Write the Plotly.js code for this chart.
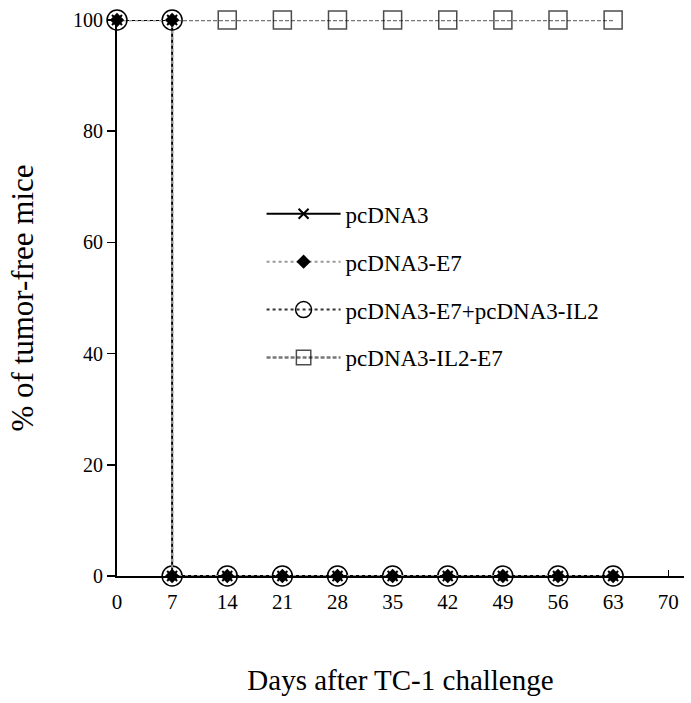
<!DOCTYPE html>
<html>
<head>
<meta charset="utf-8">
<script src="https://cdn.plot.ly/plotly-3.0.1.min.js"></script>
<style>
  html, body { margin: 0; padding: 0; background: #fff; }
  #chart { width: 691px; height: 703px; }
</style>
</head>
<body>
<div id="chart"></div>
<script>
// days after challenge, step at day 7 for the control groups
const stepDays = [0, 7, 7, 14, 21, 28, 35, 42, 49, 56, 63];
const pcDNA3 = [100, 100, 0, 0, 0, 0, 0, 0, 0, 0, 0];
const pcDNA3E7 = [100, 100, 0, 0, 0, 0, 0, 0, 0, 0, 0];
const pcDNA3E7IL2 = [100, 100, 0, 0, 0, 0, 0, 0, 0, 0, 0];

const il2Days = [0, 7, 14, 21, 28, 35, 42, 49, 56, 63];
const pcDNA3IL2E7 = [100, 100, 100, 100, 100, 100, 100, 100, 100, 100];

const xTicks = [0, 7, 14, 21, 28, 35, 42, 49, 56, 63, 70];
const yTicks = [0, 20, 40, 60, 80, 100];

const serif = 'Liberation Serif, Times New Roman, serif';

const traces = [
    {
        x: il2Days, y: pcDNA3IL2E7, name: 'pcDNA3-IL2-E7', legendgroup: 'd', legendrank: 4,
        mode: 'lines+markers',
        line: {color: '#777', width: 2.5, dash: '4px,2px'},
        // squares under the circles at day 0 and 7 are hidden
        marker: {symbol: 'square-open', size: il2Days.map(d => d < 14 ? 0 : 18), color: '#000', line: {width: 1.5}},
        cliponaxis: false
    },
    {
        x: stepDays, y: pcDNA3, name: 'pcDNA3', legendgroup: 'a', legendrank: 1,
        mode: 'lines+markers',
        line: {color: '#000', width: 2},
        marker: {symbol: 'x-thin-open', size: 10, color: '#000', line: {width: 2, color: '#000'}},
        cliponaxis: false
    },
    {
        x: stepDays, y: pcDNA3E7IL2, name: 'pcDNA3-E7+pcDNA3-IL2', legendgroup: 'c', legendrank: 3,
        mode: 'lines+markers',
        line: {color: '#333', width: 2, dash: 'dot'},
        marker: {symbol: 'circle-open', size: 20, color: '#000', line: {width: 1.5}},
        cliponaxis: false
    },
    {
        x: stepDays, y: pcDNA3E7, name: 'pcDNA3-E7', legendgroup: 'b', legendrank: 2,
        mode: 'lines+markers',
        line: {color: '#999', width: 2, dash: 'dot'},
        marker: {symbol: 'diamond', size: 11, color: '#000'},
        cliponaxis: false
    }
];

const layout = {
    width: 691,
    height: 703,
    paper_bgcolor: '#fff',
    plot_bgcolor: '#fff',
    margin: {l: 117, r: 7, t: 20, b: 127},
    font: {family: serif, color: '#000', size: 20},
    showlegend: true,
    legend: {
        x: 0.255, y: 0.69, xanchor: 'left', yanchor: 'top',
        bgcolor: 'rgba(0,0,0,0)',
        font: {family: serif, size: 23},
        itemwidth: 74,
        tracegroupgap: 15,
        traceorder: 'grouped'
    },
    xaxis: {
        range: [0, 72],
        tickvals: xTicks,
        ticks: 'inside', ticklen: 6, tickwidth: 1.5, tickcolor: '#000',
        ticklabelstandoff: 6,
        showline: true, linecolor: '#000', linewidth: 2,
        showgrid: false, zeroline: false,
        tickfont: {family: serif, size: 21},
        title: {text: 'Days after TC-1 challenge', font: {family: serif, size: 29}, standoff: 56}
    },
    yaxis: {
        range: [0, 100],
        tickvals: yTicks,
        ticks: 'outside', ticklen: 8, tickwidth: 1.5, tickcolor: '#000',
        showline: true, linecolor: '#000', linewidth: 2,
        showgrid: false, zeroline: false,
        tickfont: {family: serif, size: 20},
        title: {text: '% of tumor-free mice', font: {family: serif, size: 31}, standoff: 30}
    }
};

Plotly.newPlot('chart', traces, layout, {displayModeBar: false, staticPlot: true});
</script>
</body>
</html>
